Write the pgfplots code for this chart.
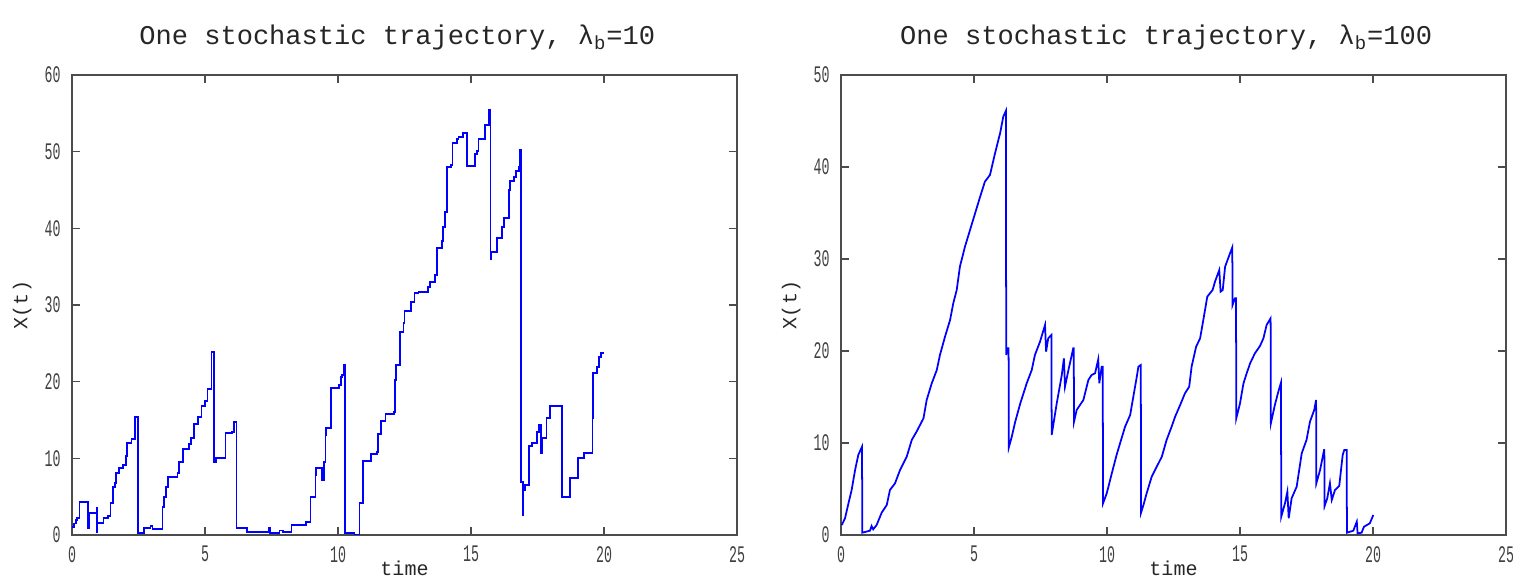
\documentclass[border=0pt]{standalone}
\usepackage{fontspec}
\setmainfont{Liberation Mono}
\newfontfamily\tickfont[FakeStretch=0.56]{Liberation Mono}
\usepackage{pgfplots}
\pgfplotsset{compat=1.18}

\pgfplotsset{
  traj/.style={
    scale only axis, width=13.3cm, height=9.2cm, anchor=south west,
    xmin=0, xmax=25, xtick={0,5,...,25}, ymin=0,
    tick align=inside, major tick length=1.6mm,
    axis line style={black!70, line width=0.6pt},
    tick style={black!70, line width=0.6pt},
    /pgf/number format/assume math mode=true,
    tick label style={font=\tickfont\fontsize{13.5}{14}\selectfont, text=black!75, inner sep=0pt},
    xticklabel style={yshift=-2.2mm},
    yticklabel style={xshift=-2.2mm},
    title style={font=\fontsize{15.4}{16}\selectfont, text=black!85,
      at={(axis description cs:0.489,1.0435)}, anchor=base},
    label style={font=\fontsize{11.4}{12}\selectfont, text=black!85},
    xlabel style={at={(axis description cs:0.5,-0.055)}, anchor=north, inner sep=0pt},
    ylabel style={at={(axis description cs:-0.075,0.5)}, anchor=center},
    xlabel={time}, ylabel={X(t)},
  },
}

\begin{document}
\begin{tikzpicture}
\begin{axis}[traj, at={(1.44cm,1cm)}, ymax=60, ytick={0,10,...,60},
  title={One stochastic trajectory, λ\textsubscript{b}=10}]
\addplot[blue, line width=1pt, const plot] coordinates {
(0,1.0) (0.08,1.5) (0.14,2.0) (0.2,2.2) (0.28,4.35) (0.61,0.87) (0.65,2.91)
(0.93,3.48) (0.95,0.43) (0.96,1.61) (1.18,2.26) (1.36,2.48) (1.45,4.22)
(1.53,6.22) (1.61,6.74) (1.65,8.04) (1.78,8.70) (1.93,9.13) (2.03,10.3)
(2.08,11.96) (2.24,12.52) (2.36,15.43) (2.47,0.30) (2.70,0.96) (2.95,1.17)
(3.03,0.74) (3.40,3.70) (3.46,5.0) (3.53,6.3) (3.62,7.52) (3.97,8.04)
(4.03,9.48) (4.18,11.22) (4.40,11.83) (4.47,12.70) (4.59,14.43) (4.74,15.43)
(4.87,16.87) (4.99,17.48) (5.09,19.04) (5.24,23.83) (5.33,9.57) (5.41,10.09)
(5.77,13.26) (6.01,13.48) (6.08,14.70) (6.18,0.87) (6.59,0.43) (7.41,0.96)
(7.43,0.30) (7.80,0.6) (7.93,0.43) (8.25,1.30) (8.81,1.74) (8.97,5.0)
(9.15,7.83) (9.18,8.70) (9.41,7.17) (9.46,9.57) (9.53,13.04) (9.56,13.91)
(9.75,19.13) (10.03,19.57) (10.10,20.65) (10.16,20.87) (10.22,22.17)
(10.27,0.22) (10.62,0.0) (10.81,4.13) (10.94,9.65) (11.25,10.57)
(11.46,10.87) (11.51,13.17) (11.62,14.91) (11.79,15.74) (12.10,16.0)
(12.15,20.2) (12.19,22.13) (12.34,26.43) (12.46,27.61) (12.50,29.26)
(12.75,30.43) (12.88,31.52) (13.03,31.74) (13.39,32.39) (13.46,33.04)
(13.66,33.91) (13.71,37.39) (13.91,38.35) (13.96,40.13) (14.01,42.17)
(14.09,47.96) (14.25,48.26) (14.30,51.09) (14.46,51.61) (14.53,51.96)
(14.71,52.48) (14.85,48.13) (15.15,49.69) (15.23,50.13) (15.28,51.61)
(15.52,53.48) (15.67,55.43) (15.73,35.96) (15.75,36.96) (15.97,38.78)
(16.17,40.22) (16.25,41.39) (16.42,45.0) (16.48,46.22) (16.63,46.65)
(16.69,47.48) (16.79,47.96) (16.84,50.22) (16.88,6.96) (16.95,2.61)
(16.97,5.87) (17.04,6.48) (17.19,11.61) (17.29,11.96) (17.47,13.48)
(17.57,14.35) (17.63,10.74) (17.66,12.70) (17.84,15.22) (17.98,16.83)
(18.41,4.91) (18.73,7.39) (19.03,10.0) (19.26,10.65) (19.57,15.22)
(19.59,21.09) (19.73,21.96) (19.82,23.26) (19.88,23.70) (20.0,23.70)
};
\end{axis}

\begin{axis}[traj, at={(16.82cm,1cm)}, ymax=50, ytick={0,10,...,50},
  title={One stochastic trajectory, λ\textsubscript{b}=100}]
\addplot[blue, line width=1pt] coordinates {
(0.03,1.09) (0.15,1.81) (0.28,3.44) (0.40,4.89) (0.53,7.07) (0.65,8.70)
(0.79,9.60) (0.80,0.25) (1.09,0.47) (1.15,0.98) (1.21,0.62) (1.34,1.09)
(1.53,2.43) (1.72,3.26) (1.84,4.89) (2.03,5.62) (2.22,7.07) (2.47,8.51)
(2.66,10.33) (2.84,11.23) (3.10,12.68) (3.22,14.67) (3.41,16.48) (3.60,17.93)
(3.72,19.57) (3.91,21.56) (4.10,23.37) (4.22,25.18) (4.35,26.63) (4.47,29.17)
(4.66,31.34) (4.85,33.15) (5.04,34.96) (5.23,36.77) (5.41,38.41) (5.60,39.13)
(5.79,41.49) (5.98,43.66) (6.10,45.47) (6.20,46.12) (6.21,19.57) (6.24,20.29)
(6.30,20.29) (6.31,9.53) (6.42,10.69) (6.55,12.32) (6.74,14.31) (6.98,16.48)
(7.17,17.93) (7.29,19.57) (7.48,21.0) (7.67,22.83) (7.71,19.93) (7.79,21.38)
(7.91,21.74) (7.92,10.87) (8.11,14.31) (8.30,17.39) (8.38,19.2) (8.42,16.12)
(8.55,17.93) (8.73,20.29) (8.75,20.29) (8.76,12.32) (8.86,13.59) (9.11,14.67)
(9.30,16.85) (9.42,17.39) (9.55,17.57) (9.67,19.09) (9.71,16.48) (9.80,18.30)
(9.84,18.30) (9.85,3.44) (9.99,4.53) (10.18,6.70) (10.36,8.70) (10.49,9.96)
(10.68,11.78) (10.87,13.04) (10.99,15.04) (11.12,17.21) (11.18,18.30)
(11.27,18.48) (11.28,2.43) (11.37,3.26) (11.49,4.53) (11.68,6.34) (11.87,7.43)
(12.06,8.51) (12.24,10.33) (12.43,11.78) (12.56,12.86) (12.75,14.13)
(12.93,15.40) (13.09,16.12) (13.18,18.30) (13.35,20.47) (13.50,21.38)
(13.62,23.37) (13.77,25.91) (13.97,26.63) (14.06,27.54) (14.22,28.80)
(14.27,26.45) (14.35,26.63) (14.44,29.17) (14.60,30.43) (14.71,31.27)
(14.72,25.0) (14.81,25.72) (14.85,25.72) (14.86,12.68) (15.0,14.31)
(15.13,16.48) (15.25,17.57) (15.38,18.66) (15.56,19.75) (15.75,20.54)
(15.88,21.38) (16.0,22.83) (16.15,23.55) (16.16,12.14) (16.31,14.13)
(16.44,15.58) (16.54,16.56) (16.55,1.99) (16.69,3.44) (16.78,4.71)
(16.83,1.81) (16.94,3.99) (17.13,5.25) (17.32,8.88) (17.50,10.33)
(17.63,12.32) (17.79,13.59) (17.86,14.67) (17.87,5.62) (18.01,7.07)
(18.16,9.24) (18.17,9.24) (18.18,3.15) (18.28,3.99) (18.38,5.62) (18.45,3.81)
(18.57,4.89) (18.73,5.33) (18.86,8.70) (18.92,9.24) (19.01,9.24) (19.02,0.25)
(19.26,0.47) (19.39,1.45) (19.42,0.18) (19.57,0.25) (19.66,0.9) (19.88,1.27)
(20.01,2.17)
};
\end{axis}
\pgfresetboundingbox
\useasboundingbox (0,0) rectangle (30.26,11.70);
\end{tikzpicture}
\end{document}
